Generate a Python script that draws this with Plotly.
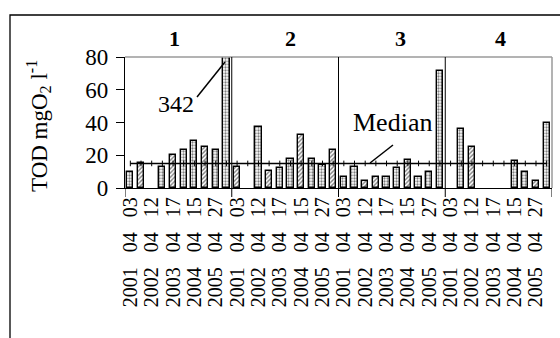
import plotly.graph_objects as go

# ---------------- data ----------------
sites = ["1", "2", "3", "4"]
dates = ["2001 04 03", "2002 04 12", "2003 04 17", "2004 04 15", "2005 04 27"]
site1 = [9.5, 15, None, 13, 20, 23, 29, 25, 23, 342]
site2 = [13, None, 37.5, 10.5, 12, 18, 32.5, 18, 14, 23]
site3 = [7, 13, 4.5, 7, 7, 12, 17, 7, 9.5, 71.5]
site4 = [None, 36, 25, None, None, None, 16.5, 9.5, 4.5, 40]
median_value = 15
outlier_label = "342"

# bar fill styles (d = dense stipple, h = diagonal hatch)
styles1 = ["d", "h", "d", "d", "h", "d", "d", "h", "d", "d"]
styles2 = ["h", "d", "d", "h", "d", "d", "h", "d", "d", "h"]
styles3 = ["d", "d", "h", "h", "d", "d", "h", "d", "d", "d"]
styles4 = ["d", "d", "h", "d", "d", "d", "d", "d", "h", "d"]

values = site1 + site2 + site3 + site4
styles = styles1 + styles2 + styles3 + styles4
n = len(values)
xs = list(range(n))
per_site = len(site1)
shape_map = {"d": ".", "h": "/"}

# tick labels every second sample
tickvals = xs[::2]
ticktext = [d.replace(" ", "\u00a0\u00a0\u00a0") for d in dates] * len(sites)

FONT = "Liberation Serif, Times New Roman, serif"

# pixel geometry of plot area (for annotation placement)
L, R, T, B = 125, 552, 57, 188


def px(xp):
    return (xp - L) / (R - L)


def py(yp):
    return (B - yp) / (B - T)


fig = go.Figure()
fig.add_trace(go.Bar(
    x=xs, y=values, width=0.58,
    marker=dict(
        color="white",
        line=dict(color="black", width=1.4),
        pattern=dict(shape=[shape_map[s] for s in styles], fgcolor="black",
                     bgcolor="white", size=3, solidity=0.45),
    ),
    showlegend=False, hoverinfo="skip",
))
fig.add_trace(go.Scatter(
    x=xs, y=[median_value] * n, mode="lines+markers",
    line=dict(color="black", width=1.5),
    marker=dict(symbol="line-ns-open", size=4, color="black",
                line=dict(color="black", width=1)),
    showlegend=False, cliponaxis=False, hoverinfo="skip",
))

shapes = []
# gray plot-area top and right borders
shapes.append(dict(type="line", xref="paper", yref="paper", x0=0, x1=1, y0=1, y1=1,
                   line=dict(color="#9a9a9a", width=1.5)))
shapes.append(dict(type="line", xref="paper", yref="paper", x0=1, x1=1, y0=0, y1=1,
                   line=dict(color="#9a9a9a", width=1.5)))
# group separators
for k in range(1, len(sites)):
    xb = k * per_site - 0.5
    shapes.append(dict(type="line", xref="x", yref="paper", x0=xb, x1=xb,
                       y0=-9 / (B - T), y1=1, line=dict(color="black", width=1)))
for xb in [-0.5, n - 0.5]:
    shapes.append(dict(type="line", xref="x", yref="paper", x0=xb, x1=xb,
                       y0=-9 / (B - T), y1=0, line=dict(color="black", width=1)))
# leader lines
shapes.append(dict(type="line", xref="paper", yref="paper",
                   x0=px(197), y0=py(97), x1=px(225), y1=py(62),
                   line=dict(color="black", width=1.5)))
shapes.append(dict(type="line", xref="paper", yref="paper",
                   x0=px(393), y0=py(145), x1=px(370), y1=py(163),
                   line=dict(color="black", width=1.5)))
# outer frame
shapes.append(dict(type="rect", xref="paper", yref="paper",
                   x0=px(10), y0=py(15), x1=px(575), y1=py(360),
                   line=dict(color="black", width=1.3)))

annotations = []


def label(text, xp, yp, size, angle=0):
    annotations.append(dict(text=text, xref="paper", yref="paper",
                            x=px(xp), y=py(yp), xanchor="center", yanchor="middle",
                            showarrow=False, textangle=angle,
                            font=dict(family=FONT, size=size, color="black")))


group_x = [174, 290, 400, 500]
for s, gx in zip(sites, group_x):
    label("<b>%s</b>" % s, gx, 38, 22)
label(outlier_label, 176, 104, 24)
label("Median", 392, 122, 26)
label("TOD mgO<sub>2</sub> l<sup>-1</sup>", 38, 126, 23, -90)

fig.update_layout(
    width=560, height=338,
    margin=dict(l=L, r=560 - R, t=T, b=338 - B),
    paper_bgcolor="white", plot_bgcolor="white",
    bargap=0, hovermode=False,
    shapes=shapes, annotations=annotations,
    xaxis=dict(range=[-0.5, n - 0.5], tickmode="array", tickvals=tickvals,
               ticktext=ticktext, tickangle=-90, ticks="", showgrid=False,
               showline=True, linecolor="black", linewidth=1.3, zeroline=False,
               tickfont=dict(family=FONT, size=20, color="black")),
    yaxis=dict(range=[0, 80], tickmode="array", tickvals=[0, 20, 40, 60, 80],
               ticks="outside", ticklen=8, tickcolor="black", tickwidth=1,
               ticklabelstandoff=3,
               showline=True, linecolor="black", linewidth=1.3, showgrid=False,
               zeroline=False,
               tickfont=dict(family=FONT, size=23, color="black")),
)

fig.write_html("out.html", config={"displayModeBar": False},
               post_script="document.body.style.margin='0px';")
